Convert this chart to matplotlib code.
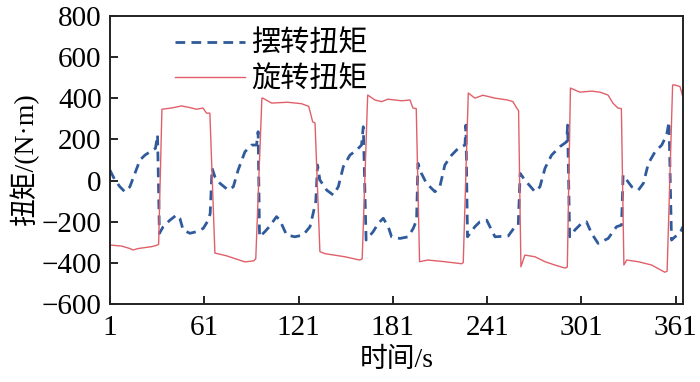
import matplotlib
matplotlib.use("Agg")
import matplotlib.pyplot as plt

plt.rcParams['font.family'] = ['Liberation Serif', 'Noto Sans CJK SC']
plt.rcParams['lines.scale_dashes'] = False
plt.rcParams['axes.unicode_minus'] = True

# --- data (time in s, torque in N·m) ---
swing_t = [1, 4.2, 7.4, 10.5, 13.7, 16.9, 20.1, 23.3, 27.5, 30, 31.3, 32.5,
           34.9, 39.2, 43.4, 45.5, 47.6, 51.9, 56.2, 60.4, 63.6, 64.8, 66,
           67.8, 71, 76.3, 79.5, 82.6, 86.9, 91.1, 94.3, 95.3, 96.2,
           99.6, 102.4, 107, 109.1, 113.4, 118.7, 124, 128.3, 130.3, 132, 133.1,
           134.6, 138.9, 143.1, 146.3, 149.5, 153.7, 158, 161.1, 162.2, 164,
           168.5, 171.7, 174.9, 178.1, 180.2, 185.5, 190.8, 194, 196.1, 197,
           199.2, 202.4, 207.8, 210.9, 214.1, 218.4, 222.6, 226.9, 227.5, 228.5,
           233.2, 236.4, 240.7, 243.8, 246, 254.4, 258.7, 260.8, 262,
           265, 271.4, 274.6, 277.8, 282, 287.3, 291.6, 292.2, 293.5,
           296.8, 301, 304.2, 307.4, 311.6, 318, 323.3, 326.5, 327.5,
           329.8, 333, 337.2, 340.4, 343.6, 347.8, 352.1, 355.2, 356.7, 358.3,
           360.5, 363.7, 365.5]
swing_torque = [51, 3, -30, -54, -30, 35, 100, 124, 145, 157, 222, -256,
                -224, -192, -167, -183, -240, -256, -248, -232, -192, -160, 60,
                19, -13, -46, -30, 52, 140, 173, 173, 238, -273,
                -248, -224, -175, -192, -264, -273, -264, -224, -159, -100, 76,
                3, -46, -70, -30, 68, 124, 149, 173, 262, -289,
                -248, -208, -183, -224, -273, -281, -273, -232, -192, 84,
                35, -13, -54, -30, 76, 124, 157, 173, 270, -273,
                -224, -200, -192, -240, -273, -269, -224, -216, 35,
                3, -54, -30, 60, 124, 165, 189, 270, -273,
                -240, -208, -200, -256, -305, -281, -224, -216, 27,
                3, -30, -46, -13, 84, 140, 173, 222, 286, -289,
                -273, -256, -224]

spin_t = [1, 8.4, 13.7, 15.8, 19, 27.5, 30.5, 32, 34.1, 40.2, 46.6, 50.7, 56.2,
          60.2, 62.5, 64.6, 67.8, 75, 86.9, 92.5, 93.8, 97.7, 98.3, 103.9, 114,
          122.9, 127.5, 130, 131.5, 134.6, 137.8, 150.5, 160, 161.5, 165,
          169.6, 173.9, 177.9, 186.6, 191.9, 193.8, 195.9, 198, 203.3, 214,
          224.8, 225.8, 229, 233.2, 238.3, 246, 254, 257.4, 259.8, 261, 262.5,
          265, 271.4, 277.8, 284, 290.5, 292, 294, 300, 307.5, 312.8, 317.9,
          321, 324.2, 326.4, 328, 329.8, 337, 345.6, 354, 355.5, 359,
          360.5, 363.7, 365.5]
spin_torque = [-313, -318, -330, -337, -330, -321, -315, -310, 347, 353, 363, 357,
               347, 353, 328, 328, -352, -365, -395, -390, -380, 401, 401, 377, 381,
               374, 361, 286, 280, -345, -355, -370, -386, -380, 416,
               392, 384, 396, 388, 392, 353, 350, -394, -386, -394,
               -404, -398, 426, 401, 415, 401, 392, 384, 353, 340, -419,
               -362, -370, -394, -410, -425, -420, 450, 430, 435, 430, 416,
               377, 353, 350, -410, -386, -394, -410, -445, -440, 465,
               465, 457, 408]

x_ticks = [1, 61, 121, 181, 241, 301, 361]
y_ticks = [-600, -400, -200, 0, 200, 400, 600, 800]

fig = plt.figure(figsize=(7, 3.82), dpi=100)
ax = fig.add_axes([0.157, 0.204, 0.8187, 0.754])

ax.plot(swing_t, swing_torque, color="#2f5a9c", lw=2.0, dashes=(7, 4.5),
        label="摆转扭矩")
ax.plot(spin_t, spin_torque, color="#e0606a", lw=1.0, label="旋转扭矩")

ax.set_xlim(1, 365.6)
ax.set_ylim(-600, 800)
ax.set_xticks(x_ticks)
ax.set_yticks(y_ticks)
ax.tick_params(axis="both", direction="in", length=6, width=1.2, labelsize=21,
               top=False, right=False)
ax.tick_params(axis="x", pad=8)
ax.tick_params(axis="y", pad=6)
for s in ax.spines.values():
    s.set_linewidth(1.4)
    s.set_color("#222222")

ax.set_xlabel("时间/s", fontsize=20, labelpad=5)
ax.set_ylabel("扭矩/(N·m)", fontsize=20, labelpad=2)

ax.legend(loc="upper left", bbox_to_anchor=(0.078, 1.02), frameon=False,
          fontsize=21, handlelength=2.4, handletextpad=0.2, labelspacing=0.3,
          borderpad=0.2)

fig.savefig("out.png", dpi=100)
